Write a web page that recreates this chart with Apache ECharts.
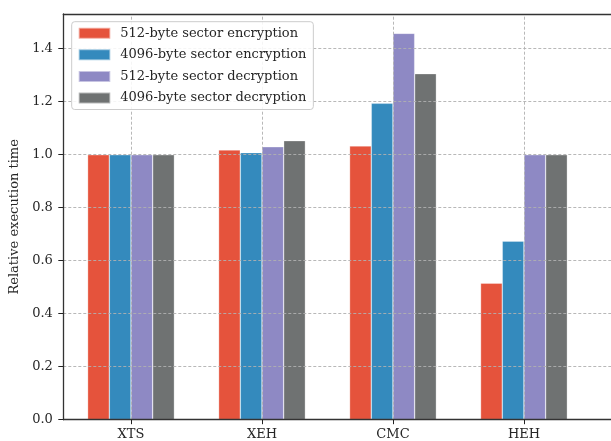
<!DOCTYPE html>
<html>
<head>
<meta charset="utf-8">
<script src="https://cdn.jsdelivr.net/npm/echarts@6/dist/echarts.min.js"></script>
<style>
  html, body { margin: 0; padding: 0; background: #fff; overflow: hidden; }
  #chart { width: 680px; height: 441px; }
</style>
</head>
<body>
<div id="chart"></div>
<script>
// Relative execution time of wide-block modes, normalised to XTS
const categories = ['XTS', 'XEH', 'CMC', 'HEH'];
const seriesNames = [
  '512-byte sector encryption',
  '4096-byte sector encryption',
  '512-byte sector decryption',
  '4096-byte sector decryption'
];
const enc512 = [1.0, 1.018, 1.033, 0.515];
const enc4096 = [1.0, 1.008, 1.194, 0.674];
const dec512 = [1.0, 1.030, 1.458, 1.0];
const dec4096 = [1.0, 1.053, 1.306, 1.0];
const yTicks = [0, 0.2, 0.4, 0.6, 0.8, 1.0, 1.2, 1.4];

const colors = ['#E5533C', '#348ABD', '#8E89C4', '#6F7272'];
const values = [enc512, enc4096, dec512, dec4096];
const font = 'DejaVu Serif';
const textColor = '#262626';
const gridColor = '#b0b0b0';
const catIndex = categories.map((c, i) => i);

const chart = echarts.init(document.getElementById('chart'), null, { renderer: 'canvas' });

const series = values.map((vals, i) => ({
  name: seriesNames[i],
  type: 'bar',
  xAxisIndex: 0,
  data: vals.map((v, j) => [j, v]),
  barWidth: 21.7,
  barGap: '0%',
  itemStyle: { color: colors[i], borderColor: 'rgba(255,255,255,0.5)', borderWidth: 0.6 },
  z: 2
}));

// vertical dashed gridlines at each category, drawn over the bars
series.push({
  name: 'category-grid',
  type: 'line',
  data: [],
  silent: true,
  z: 6,
  markLine: {
    silent: true,
    symbol: ['none', 'none'],
    label: { show: false },
    animation: false,
    lineStyle: { color: gridColor, type: [3, 2], width: 0.9 },
    data: catIndex.map(i => ({ xAxis: i }))
  }
});

chart.setOption({
  animation: false,
  backgroundColor: '#fff',
  textStyle: { fontFamily: font },
  grid: {
    left: 63.3,
    top: 14,
    width: 572.0,
    height: 405.7,
    show: false
  },
  legend: {
    orient: 'vertical',
    left: 71.7,
    top: 21.7,
    data: seriesNames,
    icon: 'rect',
    itemWidth: 31.6,
    itemHeight: 11,
    itemGap: 6.6,
    padding: [4, 7, 4, 6],
    backgroundColor: 'rgba(255,255,255,0.85)',
    borderColor: '#cccccc',
    borderWidth: 1,
    borderRadius: 3,
    z: 10,
    textStyle: { fontFamily: font, fontSize: 13, color: textColor, lineHeight: 15, padding: [0, 0, 0, 5] }
  },
  xAxis: [{
    type: 'value',
    position: 'bottom',
    min: -0.5168,
    max: 3.85,
    z: 5,
    axisLine: { show: true, onZero: false, lineStyle: { color: '#333', width: 1.3 } },
    axisTick: { show: true, length: 4.5, lineStyle: { color: '#222', width: 1 }, customValues: catIndex },
    axisLabel: {
      customValues: catIndex,
      formatter: v => categories[Math.round(v)] || '',
      fontFamily: font, fontSize: 13, color: textColor, margin: 8
    },
    splitLine: { show: false }
  }, {
    // top frame line
    type: 'value',
    position: 'top',
    min: -0.5168,
    max: 3.85,
    z: 5,
    axisLine: { show: true, onZero: false, lineStyle: { color: '#333', width: 1.3 } },
    axisTick: { show: false },
    axisLabel: { show: false },
    splitLine: { show: false }
  }],
  yAxis: {
    type: 'value',
    min: 0,
    max: 1.531,
    interval: 0.2,
    z: 5,
    name: 'Relative execution time',
    nameLocation: 'middle',
    nameGap: 35,
    nameTextStyle: { fontFamily: font, fontSize: 13, color: textColor },
    axisLine: { show: true, onZero: false, lineStyle: { color: '#333', width: 1.3 } },
    axisTick: { show: true, length: 5, lineStyle: { color: '#222', width: 1 } },
    axisLabel: {
      showMaxLabel: false,
      formatter: v => (yTicks.some(t => Math.abs(t - v) < 1e-9) ? v.toFixed(1) : ''),
      fontFamily: font, fontSize: 13, color: textColor, margin: 10.5
    },
    splitLine: { show: true, lineStyle: { color: gridColor, type: [3, 2], width: 0.9 } }
  },
  series: series
});
</script>
</body>
</html>
